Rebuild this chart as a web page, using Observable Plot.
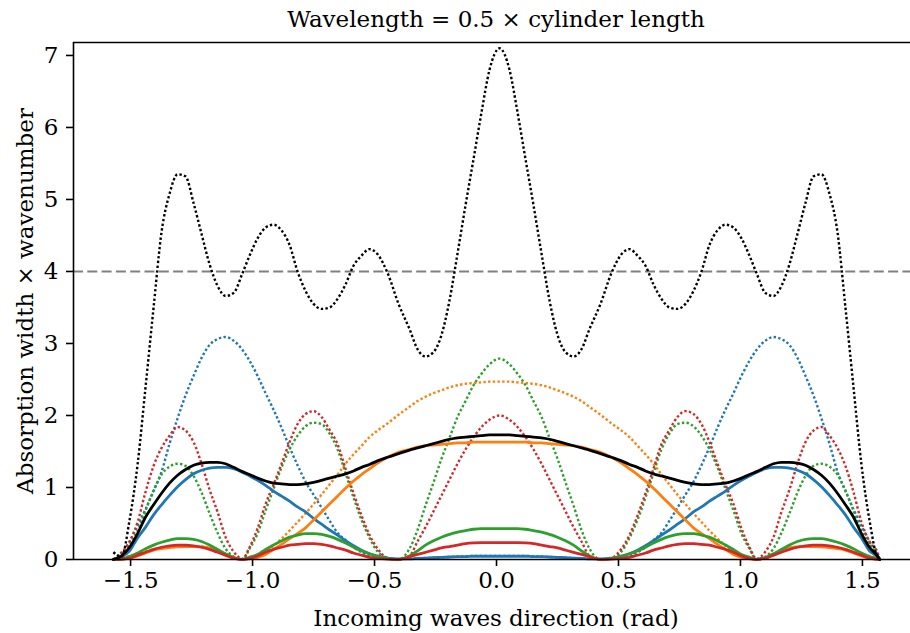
<!DOCTYPE html>
<html>
<head>
<meta charset="utf-8">
<script src="https://cdn.jsdelivr.net/npm/d3@7"></script>
<script src="https://cdn.jsdelivr.net/npm/@observablehq/plot@0.6"></script>
<style>
  html, body { margin: 0; padding: 0; background: #fff; }
  #chart { width: 910px; height: 633px; }
</style>
</head>
<body>
<div id="chart"></div>
<script>
// ---------- text ----------
const title = "Wavelength = 0.5 × cylinder length";
const xLabel = "Incoming waves direction (rad)";
const yLabel = "Absorption width × wavenumber";
const xTicks = [-1.5, -1.0, -0.5, 0.0, 0.5, 1.0, 1.5];
const yTicks = [0, 1, 2, 3, 4, 5, 6, 7];
const threshold = [4];

// ---------- data ----------
const theta = [
  -1.5708, -1.5369, -1.5041, -1.4713, -1.4385, -1.4057, -1.3730, -1.3402, -1.3074, -1.2746,
  -1.2418, -1.2090, -1.1762, -1.1434, -1.1107, -1.0779, -1.0410, -1.0123, -0.9795, -0.9467,
  -0.9139, -0.8811, -0.8484, -0.8156, -0.7828, -0.7500, -0.7172, -0.6844, -0.6516, -0.6189,
  -0.5861, -0.5533, -0.5205, -0.4877, -0.4467, -0.4016, -0.3566, -0.3238, -0.2910, -0.2582,
  -0.2254, -0.1926, -0.1598, -0.1270, -0.0943, -0.0615, -0.0287,
  0.0123,
  0.0533, 0.0861, 0.1189, 0.1516, 0.1844, 0.2172, 0.2500, 0.2828, 0.3156, 0.3484,
  0.3811, 0.4262, 0.4713, 0.5123, 0.5451, 0.5779, 0.6107, 0.6434, 0.6762, 0.7090,
  0.7418, 0.7746, 0.8074, 0.8402, 0.8730, 0.9057, 0.9385, 0.9713, 1.0041, 1.0369,
  1.0656, 1.1025, 1.1352, 1.1680, 1.2008, 1.2336, 1.2664, 1.2992, 1.3320, 1.3648,
  1.3975, 1.4303, 1.4631, 1.4959, 1.5287, 1.5615, 1.5708
];

const blackDotted = [
  0.10, 0.04, 0.55, 1.32, 2.40, 3.50, 4.55, 5.08, 5.35, 5.32,
  4.95, 4.52, 4.10, 3.80, 3.66, 3.70, 3.98, 4.22, 4.46, 4.61,
  4.65, 4.57, 4.37, 4.00, 3.73, 3.55, 3.48, 3.50, 3.62, 3.82,
  4.08, 4.22, 4.31, 4.24, 3.98, 3.55, 3.20, 2.92, 2.82, 2.88,
  3.12, 3.60, 4.25, 4.92, 5.56, 6.21, 6.80,
  7.10,
  6.80, 6.21, 5.56, 4.92, 4.25, 3.60, 3.12, 2.88, 2.82, 2.92,
  3.20, 3.55, 3.98, 4.24, 4.31, 4.22, 4.08, 3.82, 3.62, 3.50,
  3.48, 3.55, 3.73, 4.00, 4.37, 4.57, 4.65, 4.61, 4.46, 4.22,
  3.98, 3.70, 3.66, 3.80, 4.10, 4.52, 4.95, 5.32, 5.35, 5.08,
  4.55, 3.50, 2.40, 1.32, 0.55, 0.04, 0.02
];

const blueDotted = [
  0, 0.08, 0.25, 0.47, 0.70, 0.95, 1.22, 1.61, 1.96, 2.28,
  2.55, 2.80, 2.98, 3.06, 3.09, 3.04, 2.91, 2.76, 2.55, 2.31,
  2.08, 1.83, 1.56, 1.31, 1.08, 0.90, 0.72, 0.54, 0.37, 0.27,
  0.17, 0.10, 0.06, 0.03, 0.01, 0.005, 0.01, 0.015, 0.02, 0.025,
  0.03, 0.035, 0.04, 0.045, 0.05, 0.05, 0.05,
  0.05,
  0.05, 0.05, 0.05, 0.045, 0.04, 0.035, 0.03, 0.025, 0.02, 0.015,
  0.01, 0.005, 0.01, 0.03, 0.06, 0.10, 0.17, 0.27, 0.37, 0.54,
  0.72, 0.90, 1.08, 1.31, 1.56, 1.83, 2.08, 2.31, 2.55, 2.76,
  2.91, 3.04, 3.09, 3.06, 2.98, 2.80, 2.55, 2.28, 1.96, 1.61,
  1.22, 0.95, 0.70, 0.47, 0.25, 0.08, 0
];

const redDotted = [
  0, 0.10, 0.25, 0.52, 0.94, 1.30, 1.55, 1.72, 1.84, 1.79,
  1.63, 1.33, 0.97, 0.66, 0.31, 0.11, 0.01, 0.17, 0.43, 0.77,
  1.04, 1.33, 1.63, 1.88, 2.02, 2.06, 1.98, 1.80, 1.60, 1.26,
  0.92, 0.61, 0.34, 0.15, 0.02, 0.0, 0.05, 0.25, 0.45, 0.67,
  0.89, 1.11, 1.33, 1.53, 1.70, 1.84, 1.94,
  2.00,
  1.94, 1.84, 1.70, 1.53, 1.33, 1.11, 0.89, 0.67, 0.45, 0.25,
  0.05, 0.0, 0.02, 0.15, 0.34, 0.61, 0.92, 1.26, 1.60, 1.80,
  1.98, 2.06, 2.02, 1.88, 1.63, 1.33, 1.04, 0.77, 0.43, 0.17,
  0.01, 0.11, 0.31, 0.66, 0.97, 1.33, 1.63, 1.79, 1.84, 1.72,
  1.55, 1.30, 0.94, 0.52, 0.25, 0.10, 0
];

const greenDotted = [
  0, 0.06, 0.22, 0.40, 0.68, 0.96, 1.18, 1.29, 1.33, 1.30,
  1.16, 0.93, 0.64, 0.37, 0.15, 0.04, 0.0, 0.15, 0.36, 0.68,
  0.98, 1.28, 1.53, 1.72, 1.85, 1.90, 1.88, 1.75, 1.53, 1.20,
  0.86, 0.55, 0.30, 0.11, 0.02, 0.0, 0.15, 0.41, 0.75, 1.07,
  1.40, 1.69, 1.98, 2.20, 2.42, 2.58, 2.71,
  2.79,
  2.71, 2.58, 2.42, 2.20, 1.98, 1.69, 1.40, 1.07, 0.75, 0.41,
  0.15, 0.0, 0.02, 0.11, 0.30, 0.55, 0.86, 1.20, 1.53, 1.75,
  1.88, 1.90, 1.85, 1.72, 1.53, 1.28, 0.98, 0.68, 0.36, 0.15,
  0.0, 0.04, 0.15, 0.37, 0.64, 0.93, 1.16, 1.30, 1.33, 1.29,
  1.18, 0.96, 0.68, 0.40, 0.22, 0.06, 0
];

const orangeDotted = [
  0, 0.02, 0.05, 0.08, 0.11, 0.14, 0.16, 0.17, 0.18, 0.185,
  0.185, 0.18, 0.16, 0.12, 0.07, 0.03, 0.0, 0.015, 0.05, 0.11,
  0.19, 0.29, 0.40, 0.52, 0.64, 0.77, 0.90, 1.04, 1.18, 1.33,
  1.46, 1.58, 1.70, 1.79, 1.89, 2.01, 2.12, 2.20, 2.26, 2.31,
  2.35, 2.39, 2.42, 2.44, 2.45, 2.46, 2.47,
  2.47,
  2.47, 2.46, 2.45, 2.44, 2.42, 2.39, 2.35, 2.31, 2.26, 2.20,
  2.12, 2.01, 1.89, 1.79, 1.70, 1.58, 1.46, 1.33, 1.18, 1.04,
  0.90, 0.77, 0.64, 0.52, 0.40, 0.29, 0.19, 0.11, 0.05, 0.015,
  0.0, 0.03, 0.07, 0.12, 0.16, 0.18, 0.185, 0.185, 0.18, 0.17,
  0.16, 0.14, 0.11, 0.08, 0.05, 0.02, 0
];

const blueSolid = [
  0, 0.04, 0.12, 0.30, 0.45, 0.62, 0.76, 0.89, 1.01, 1.11,
  1.19, 1.24, 1.27, 1.28, 1.28, 1.26, 1.21, 1.16, 1.10, 1.03,
  0.95, 0.88, 0.81, 0.73, 0.66, 0.57, 0.49, 0.41, 0.34, 0.26,
  0.19, 0.13, 0.08, 0.05, 0.02, 0.01, 0.01, 0.015, 0.02, 0.025,
  0.03, 0.035, 0.04, 0.04, 0.045, 0.045, 0.045,
  0.045,
  0.045, 0.045, 0.045, 0.04, 0.04, 0.035, 0.03, 0.025, 0.02, 0.015,
  0.01, 0.01, 0.02, 0.05, 0.08, 0.13, 0.19, 0.26, 0.34, 0.41,
  0.49, 0.57, 0.66, 0.73, 0.81, 0.88, 0.95, 1.03, 1.10, 1.16,
  1.21, 1.26, 1.28, 1.28, 1.27, 1.24, 1.19, 1.11, 1.01, 0.89,
  0.76, 0.62, 0.45, 0.30, 0.12, 0.04, 0
];

const orangeSolid = [
  0, 0.0, 0.02, 0.05, 0.09, 0.13, 0.15, 0.165, 0.175, 0.18,
  0.18, 0.175, 0.16, 0.11, 0.06, 0.02, 0.0, 0.01, 0.03, 0.07,
  0.14, 0.21, 0.29, 0.36, 0.44, 0.55, 0.66, 0.77, 0.88, 0.99,
  1.09, 1.18, 1.26, 1.34, 1.42, 1.49, 1.53, 1.56, 1.58, 1.59,
  1.60, 1.61, 1.62, 1.62, 1.63, 1.63, 1.63,
  1.63,
  1.63, 1.63, 1.63, 1.62, 1.62, 1.61, 1.60, 1.59, 1.58, 1.56,
  1.53, 1.49, 1.42, 1.34, 1.26, 1.18, 1.09, 0.99, 0.88, 0.77,
  0.66, 0.55, 0.44, 0.36, 0.29, 0.21, 0.14, 0.07, 0.03, 0.01,
  0.0, 0.02, 0.06, 0.11, 0.16, 0.175, 0.18, 0.18, 0.175, 0.165,
  0.15, 0.13, 0.09, 0.05, 0.02, 0.0, 0
];

const greenSolid = [
  0, 0.01, 0.04, 0.09, 0.15, 0.20, 0.24, 0.27, 0.29, 0.29,
  0.28, 0.25, 0.20, 0.14, 0.08, 0.03, 0.0, 0.03, 0.07, 0.14,
  0.20, 0.26, 0.31, 0.34, 0.36, 0.36, 0.35, 0.32, 0.28, 0.23,
  0.17, 0.12, 0.08, 0.04, 0.015, 0.0, 0.05, 0.12, 0.20, 0.26,
  0.31, 0.35, 0.38, 0.40, 0.42, 0.43, 0.43,
  0.43,
  0.43, 0.43, 0.42, 0.40, 0.38, 0.35, 0.31, 0.26, 0.20, 0.12,
  0.05, 0.0, 0.015, 0.04, 0.08, 0.12, 0.17, 0.23, 0.28, 0.32,
  0.35, 0.36, 0.36, 0.34, 0.31, 0.26, 0.20, 0.14, 0.07, 0.03,
  0.0, 0.03, 0.08, 0.14, 0.20, 0.25, 0.28, 0.29, 0.29, 0.27,
  0.24, 0.20, 0.15, 0.09, 0.04, 0.01, 0
];

const redSolid = [
  0, 0.005, 0.02, 0.06, 0.10, 0.14, 0.17, 0.19, 0.20, 0.20,
  0.19, 0.17, 0.14, 0.10, 0.06, 0.02, 0.0, 0.015, 0.05, 0.10,
  0.14, 0.17, 0.20, 0.21, 0.22, 0.22, 0.21, 0.19, 0.16, 0.13,
  0.09, 0.06, 0.03, 0.015, 0.005, 0.0, 0.04, 0.07, 0.10, 0.13,
  0.16, 0.18, 0.20, 0.22, 0.23, 0.235, 0.235,
  0.235,
  0.235, 0.235, 0.23, 0.22, 0.20, 0.18, 0.16, 0.13, 0.10, 0.07,
  0.04, 0.0, 0.005, 0.015, 0.03, 0.06, 0.09, 0.13, 0.16, 0.19,
  0.21, 0.22, 0.22, 0.21, 0.20, 0.17, 0.14, 0.10, 0.05, 0.015,
  0.0, 0.02, 0.06, 0.10, 0.14, 0.17, 0.19, 0.20, 0.20, 0.19,
  0.17, 0.14, 0.10, 0.06, 0.02, 0.005, 0
];

const blackSolid = [
  0, 0.05, 0.17, 0.36, 0.59, 0.76, 0.92, 1.06, 1.17, 1.25,
  1.31, 1.34, 1.35, 1.35, 1.33, 1.28, 1.22, 1.18, 1.13, 1.09,
  1.06, 1.05, 1.04, 1.04, 1.05, 1.07, 1.10, 1.13, 1.16, 1.19,
  1.23, 1.28, 1.32, 1.37, 1.42, 1.47, 1.52, 1.55, 1.58, 1.61,
  1.64, 1.67, 1.69, 1.70, 1.71, 1.72, 1.73,
  1.73,
  1.73, 1.72, 1.71, 1.70, 1.69, 1.67, 1.64, 1.61, 1.58, 1.55,
  1.52, 1.47, 1.42, 1.37, 1.32, 1.28, 1.23, 1.19, 1.16, 1.13,
  1.10, 1.07, 1.05, 1.04, 1.04, 1.05, 1.06, 1.09, 1.13, 1.18,
  1.22, 1.28, 1.33, 1.35, 1.35, 1.34, 1.31, 1.25, 1.17, 1.06,
  0.92, 0.76, 0.59, 0.36, 0.17, 0.05, 0
];

// ---------- styling ----------
const FONT = "DejaVu Serif";
const FS = 23;
const xDomain = [-1.734, 1.697];
const yDomain = [0, 7.18];

const series = [
  {values: blueDotted,   color: "#1f77b4", dotted: true},
  {values: orangeDotted, color: "#ff7f0e", dotted: true},
  {values: greenDotted,  color: "#2ca02c", dotted: true},
  {values: redDotted,    color: "#d62728", dotted: true},
  {values: blueSolid,    color: "#1f77b4", dotted: false},
  {values: orangeSolid,  color: "#ff7f0e", dotted: false},
  {values: greenSolid,   color: "#2ca02c", dotted: false},
  {values: redSolid,     color: "#d62728", dotted: false},
  {values: blackSolid,   color: "#000000", dotted: false},
  {values: blackDotted,  color: "#000000", dotted: true}
];
const rows = s => theta.map((t, i) => ({theta: t, value: s.values[i]}));

const spine = {stroke: "black", strokeWidth: 1.6};

const chart = Plot.plot({
  width: 910,
  height: 633,
  marginLeft: 73,
  marginRight: 0,
  marginTop: 42,
  marginBottom: 74,
  style: {fontFamily: FONT, fontSize: FS + "px", background: "white", color: "black"},
  x: {domain: xDomain},
  y: {domain: yDomain},
  marks: [
    Plot.ruleY(threshold, {stroke: "#808080", strokeWidth: 2.2, strokeDasharray: "10,4.3"}),
    ...series.map(s => Plot.line(rows(s), {
      x: "theta", y: "value", stroke: s.color,
      strokeWidth: s.dotted ? 2.4 : 2.8,
      strokeDasharray: s.dotted ? "2.4,2.3" : null,
      strokeLinecap: s.dotted ? "butt" : "round",
      curve: "monotone-x"
    })),
    Plot.ruleX([xDomain[0]], spine),
    Plot.ruleY([yDomain[1]], spine),
    Plot.ruleY([yDomain[0]], spine),
    Plot.axisX({ticks: xTicks, tickFormat: d3.format(".1f"), tickSize: 7, tickPadding: 5,
                strokeWidth: 1.6, fontSize: FS, label: null}),
    Plot.axisY({ticks: yTicks, tickFormat: d3.format("d"), tickSize: 7, tickPadding: 8,
                strokeWidth: 1.6, fontSize: FS, label: null}),
    Plot.text([title], {frameAnchor: "top", lineAnchor: "middle", textAnchor: "middle",
                        dy: -23, dx: 4, fontSize: FS, text: d => d}),
    Plot.text([xLabel], {frameAnchor: "bottom", lineAnchor: "middle", textAnchor: "middle",
                         dy: 59, dx: 4, fontSize: FS, text: d => d}),
    Plot.text([yLabel], {frameAnchor: "left", lineAnchor: "middle", textAnchor: "middle",
                         dx: -48, rotate: -90, fontSize: FS, text: d => d})
  ]
});
document.getElementById("chart").appendChild(chart);
</script>
</body>
</html>
